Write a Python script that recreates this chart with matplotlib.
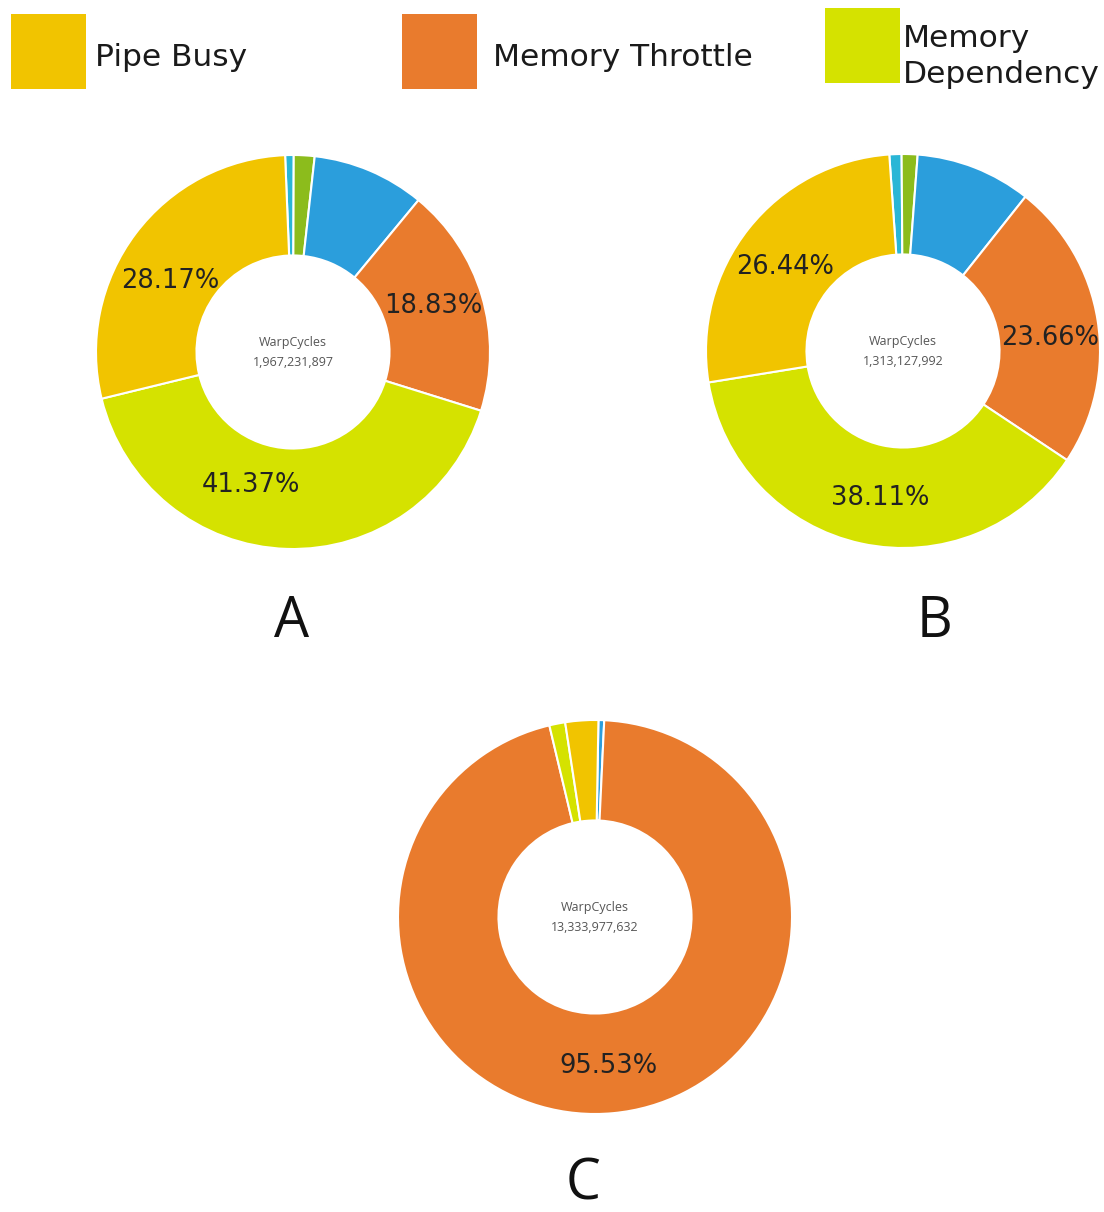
import matplotlib
matplotlib.use("Agg")
import matplotlib.pyplot as plt
from matplotlib.patches import Rectangle

# Stall reasons, clockwise order as drawn in each donut
categories = ["Minor 1", "Minor 2", "Minor 3", "Memory Throttle", "Memory Dependency", "Pipe Busy"]
colors = ["#2AB6D6", "#8CBC1C", "#2B9EDC", "#E97B2D", "#D5E200", "#F1C400"]

values_a = [0.70, 1.70, 9.23, 18.83, 41.37, 28.17]
values_b = [1.00, 1.30, 9.49, 23.66, 38.11, 26.44]
values_c = [0.00, 0.00, 0.47, 95.53, 1.30, 2.70]

panel_names = ["A", "B", "C"]
warp_cycles = ["1,967,231,897", "1,313,127,992", "13,333,977,632"]

legend_labels = ["Pipe Busy", "Memory Throttle", "Memory\nDependency"]
legend_colors = ["#F1C400", "#E97B2D", "#D5E200"]

# layout
W, H = 1104, 1212
centres = [(293, 352), (903, 351), (595, 917)]   # pixel centres of the donuts
start_angles = [92.3, 94.0, 89.0]
R = 197
lim = 1.03
# small shifts of the percentage labels (data units, per wedge index)
label_nudges = [
    {3: (0.0, 0.02), 4: (-0.19, 0.07), 5: (-0.03, -0.086)},
    {3: (0.01, -0.05), 4: (0.04, -0.02), 5: (-0.015, -0.035)},
    {3: (0.0, -0.015)},
]

fig = plt.figure(figsize=(W / 100, H / 100), dpi=100)

for vals, total, start, (cx, cy), nudge in zip(
        [values_a, values_b, values_c], warp_cycles, start_angles, centres, label_nudges):
    rr = R * lim
    ax = fig.add_axes([(cx - rr) / W, 1 - (cy + rr) / H, 2 * rr / W, 2 * rr / H])
    wedges, texts, autotexts = ax.pie(
        vals, colors=colors, startangle=start, counterclock=False,
        autopct=lambda p: f"{p:.2f}%" if p > 10 else "",
        pctdistance=0.745,
        wedgeprops=dict(width=0.51, edgecolor="white", linewidth=1.5),
        textprops=dict(fontsize=18.5, color="#222222", family="DejaVu Sans"))
    for i, (dx, dy) in nudge.items():
        x, y = autotexts[i].get_position()
        autotexts[i].set_position((x + dx, y + dy))
    ax.set_xlim(-lim, lim)
    ax.set_ylim(-lim, lim)
    ax.text(0, 0.05, "WarpCycles", ha="center", va="center",
            fontsize=9, color="#555555", family="Open Sans")
    ax.text(0, -0.055, total, ha="center", va="center",
            fontsize=9, color="#555555", family="Open Sans")

# overlay for legend and panel letters (pixel coordinates)
ov = fig.add_axes([0, 0, 1, 1], zorder=-1)
ov.set_xlim(0, W)
ov.set_ylim(H, 0)
ov.axis("off")

sq_pos = [(11, 14), (402, 14), (825, 8)]
txt_x = [95, 493, 903]
for (sx, sy), tx, lab, col in zip(sq_pos, txt_x, legend_labels, legend_colors):
    ov.add_patch(Rectangle((sx, sy), 75, 75, facecolor=col, edgecolor="none"))
    lines = lab.split("\n")
    base = 66 if len(lines) == 1 else 47
    for k, line in enumerate(lines):
        ov.text(tx, base + 36 * k, line, ha="left", va="baseline",
                fontsize=22.5, color="#1a1a1a", family="DejaVu Sans")

letter_pos = [(292, 637), (935, 637), (583, 1199)]
for (lx, ly), name in zip(letter_pos, panel_names):
    ov.text(lx, ly, name, ha="center", va="baseline", fontsize=40,
            color="#111111", family="Open Sans")

fig.savefig("out.png", dpi=100, facecolor="white")
